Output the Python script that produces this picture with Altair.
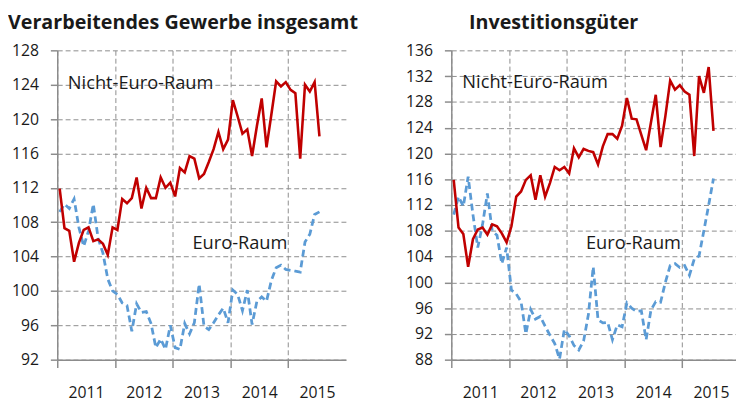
import altair as alt
import pandas as pd

years = ["2011", "2012", "2013", "2014", "2015"]
titles = ["Verarbeitendes Gewerbe insgesamt", "Investitionsgüter"]
series_names = ["Nicht-Euro-Raum", "Euro-Raum"]

# Verarbeitendes Gewerbe insgesamt (monthly, Jan 2011 - Jul 2015)
mfg_non_euro = [111.9, 107.3, 107.0, 103.4, 105.6, 107.1, 107.4, 105.8, 106.0, 105.5,
                104.2, 107.4, 107.1, 110.7, 110.2, 110.8, 113.2, 109.6, 112.0, 110.8,
                110.8, 113.2, 112.0, 112.6, 111.0, 114.3, 113.8, 115.7, 115.4, 113.1,
                113.6, 115.0, 116.5, 118.5, 116.5, 117.6, 122.2, 120.3, 118.3, 118.8,
                115.7, 119.2, 122.4, 116.7, 120.5, 124.4, 123.8, 124.3, 123.4, 123.0,
                115.4, 124.0, 123.2, 124.3, 118.0]
mfg_euro = [109.2, 110.1, 109.6, 110.7, 107.4, 105.2, 107.0, 110.1, 106.1, 104.4,
            101.4, 100.0, 99.6, 98.6, 98.3, 95.3, 98.5, 97.5, 97.6, 96.2,
            93.4, 94.4, 93.2, 96.0, 93.4, 93.2, 96.2, 95.0, 96.3, 100.8,
            95.9, 95.5, 96.3, 97.2, 98.0, 96.3, 100.1, 99.6, 97.7, 100.1,
            96.1, 98.8, 99.3, 98.8, 101.2, 102.7, 103.0, 102.5, 102.4, 102.3,
            102.2, 105.7, 106.6, 108.9, 109.2]

# Investitionsgüter
cap_non_euro = [115.9, 108.5, 107.5, 102.4, 106.7, 108.2, 108.5, 107.4, 109.0, 108.7,
                107.6, 106.2, 108.7, 113.3, 114.1, 115.9, 116.6, 112.8, 116.6, 113.3,
                115.4, 117.9, 117.4, 117.9, 116.9, 120.8, 119.4, 120.7, 120.4, 120.2,
                118.3, 121.1, 123.0, 123.0, 122.3, 124.3, 128.6, 125.4, 125.3, 122.9,
                120.5, 124.8, 129.1, 121.0, 125.8, 131.3, 129.9, 130.6, 129.6, 129.1,
                119.6, 132.0, 129.4, 133.4, 123.5]
cap_euro = [110.5, 113.3, 111.8, 116.4, 110.5, 105.4, 109.0, 113.8, 108.0, 107.3,
            102.9, 105.4, 98.8, 98.2, 97.0, 92.0, 95.8, 94.3, 94.7, 93.2,
            91.8, 90.5, 88.1, 92.7, 91.7, 90.2, 89.5, 90.9, 95.0, 102.4,
            94.2, 93.7, 93.8, 91.1, 93.4, 93.1, 96.8, 96.0, 95.5, 95.6,
            91.1, 95.7, 97.0, 96.9, 100.0, 102.6, 102.9, 102.3, 102.6, 101.1,
            103.6, 104.1, 108.0, 112.0, 116.1]

y_ticks_mfg = [92, 96, 100, 104, 108, 112, 116, 120, 124, 128]
y_ticks_cap = [88, 92, 96, 100, 104, 108, 112, 116, 120, 124, 128, 132, 136]
x_year_starts = [0, 12, 24, 36, 48, 60]

FONT = "Open Sans"
GRID = "#8c8c8c"
TEXT = "#1a1a1a"
RED = "#c00000"
BLUE = "#5b9bd5"

label_expr = " : ".join(
    f"datum.value == {12 * i} ? '{y}'" for i, y in enumerate(years)
) + " : ''"

PX_PER_MONTH = 293 / 60.0


def panel(title, non_euro, euro, y_ticks, width, title_dx, ann_pos):
    x_max = width / PX_PER_MONTH
    months = [i + 0.5 for i in range(len(non_euro))]
    df_red = pd.DataFrame({"month": months, "value": non_euro})
    df_blue = pd.DataFrame({"month": months, "value": euro})
    xscale = alt.Scale(domain=[0, x_max], nice=False, zero=False)
    yscale = alt.Scale(domain=[y_ticks[0], y_ticks[-1]], nice=False, zero=False)
    x_vals = [v for v in x_year_starts if v <= x_max + 1e-6]
    xaxis = alt.Axis(
        values=x_vals, tickCount=len(x_vals),
        labelExpr=label_expr, labelOffset=6 * PX_PER_MONTH, labelFlush=False,
        labelOverlap=False, tickSize=8, tickColor=GRID, tickWidth=1.5,
        domainColor=GRID, domainWidth=1.5, grid=True, gridColor=GRID,
        gridDash=[5, 3], gridWidth=1, labelFont=FONT, labelFontSize=16,
        labelColor=TEXT, labelPadding=17, title=None,
    )
    yaxis = alt.Axis(
        values=y_ticks, tickCount=len(y_ticks), tickSize=7, tickColor=GRID,
        tickWidth=1.5, domainColor=GRID, domainWidth=1.5, grid=True,
        gridColor=GRID, gridDash=[5, 3], gridWidth=1, labelFont=FONT,
        labelFontSize=16, labelColor=TEXT, labelPadding=12,
        labelOverlap=False, title=None,
    )
    blue = alt.Chart(df_blue).mark_line(
        color=BLUE, strokeWidth=2.8, strokeDash=[7, 4]
    ).encode(
        x=alt.X("month:Q", scale=xscale, axis=xaxis),
        y=alt.Y("value:Q", scale=yscale, axis=yaxis),
    )
    red = alt.Chart(df_red).mark_line(color=RED, strokeWidth=2.6).encode(
        x="month:Q", y="value:Q"
    )
    ann_df = pd.DataFrame({
        "label": series_names,
        "month": [p[0] for p in ann_pos],
        "value": [p[1] for p in ann_pos],
    })
    text = alt.Chart(ann_df).mark_text(
        align="left", baseline="middle", font=FONT, fontSize=18.5, color=TEXT
    ).encode(x="month:Q", y="value:Q", text="label:N")
    return alt.layer(blue, red, text).properties(
        width=width, height=314,
        title=alt.TitleParams(
            text=title, font=FONT, fontSize=20, fontWeight="bold", color=TEXT,
            anchor="start", frame="group", dx=title_dx, offset=10,
        ),
    )


left = panel(titles[0], mfg_non_euro, mfg_euro, y_ticks_mfg, 293, -50,
             [(2.2, 124.2), (28.1, 105.6)])
right = panel(titles[1], cap_non_euro, cap_euro, y_ticks_cap, 289, 18,
              [(2.3, 131.0), (28.0, 106.1)])

chart = alt.hconcat(left, right, spacing=107, bounds="flush").properties(
    padding={"top": 2, "left": 0, "right": 0, "bottom": 0}
).configure_view(stroke=None)

chart.save("out.html", embed_options={"renderer": "svg", "actions": False})
